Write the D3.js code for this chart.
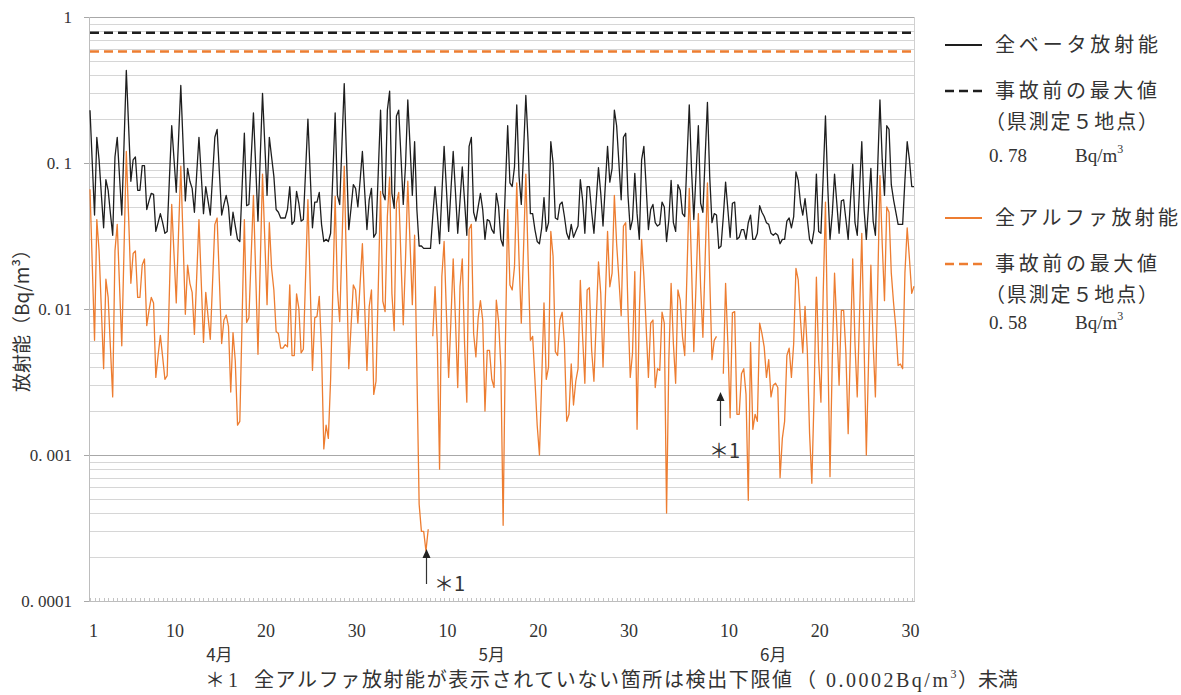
<!DOCTYPE html>
<html><head><meta charset="utf-8">
<script src="https://cdn.jsdelivr.net/npm/d3@7"></script>
<style>body{margin:0;background:#fff;}svg{display:block;}</style>
</head><body><svg id="c" width="1181" height="695"></svg>
<script>
// 全ベータ放射能 (Bq/m3), 4 samples per day, Apr 1 - Jun 30
const beta = [
0.23,0.10,0.044,0.15,0.105,0.061,0.036,0.077,0.065,0.045,0.032,0.11,0.15,0.081,0.044,0.136,0.43,0.18,0.075,0.105,
0.11,0.065,0.065,0.096,0.096,0.048,0.055,0.062,0.061,0.034,0.039,0.045,0.039,0.033,0.034,0.079,0.18,0.107,0.063,0.145,
0.34,0.136,0.055,0.092,0.075,0.067,0.046,0.084,0.15,0.083,0.045,0.069,0.055,0.044,0.081,0.15,0.17,0.086,0.044,0.052,
0.060,0.050,0.032,0.046,0.037,0.030,0.029,0.068,0.16,0.051,0.052,0.108,0.22,0.095,0.040,0.11,0.30,0.135,0.060,0.15,
0.11,0.081,0.048,0.046,0.042,0.042,0.042,0.048,0.069,0.038,0.040,0.064,0.053,0.040,0.041,0.090,0.20,0.084,0.036,0.054,
0.054,0.063,0.038,0.029,0.030,0.029,0.033,0.084,0.22,0.060,0.052,0.135,0.35,0.11,0.035,0.049,0.071,0.067,0.050,0.076,
0.12,0.064,0.035,0.056,0.067,0.031,0.033,0.087,0.23,0.062,0.056,0.23,0.31,0.062,0.049,0.21,0.23,0.11,0.052,0.097,
0.27,0.13,0.060,0.14,0.048,0.027,0.027,0.026,0.026,0.026,0.026,0.043,0.069,0.045,0.028,0.061,0.13,0.067,0.034,0.065,
0.12,0.063,0.033,0.055,0.094,0.055,0.032,0.13,0.15,0.046,0.040,0.050,0.062,0.048,0.030,0.041,0.040,0.035,0.033,0.062,
0.050,0.030,0.027,0.069,0.18,0.073,0.069,0.094,0.25,0.081,0.052,0.12,0.29,0.14,0.045,0.045,0.035,0.029,0.028,0.036,
0.058,0.034,0.039,0.14,0.10,0.042,0.041,0.052,0.054,0.043,0.033,0.030,0.038,0.031,0.034,0.037,0.077,0.056,0.033,0.069,
0.069,0.046,0.033,0.055,0.093,0.062,0.037,0.070,0.13,0.074,0.092,0.23,0.18,0.10,0.056,0.15,0.16,0.060,0.035,0.041,
0.085,0.045,0.030,0.105,0.13,0.069,0.035,0.048,0.052,0.039,0.037,0.038,0.054,0.050,0.029,0.041,0.076,0.039,0.034,0.071,
0.065,0.045,0.043,0.105,0.25,0.090,0.041,0.085,0.18,0.053,0.046,0.11,0.26,0.081,0.039,0.045,0.044,0.026,0.027,0.043,
0.074,0.048,0.031,0.053,0.054,0.030,0.031,0.035,0.035,0.030,0.039,0.044,0.030,0.030,0.033,0.051,0.046,0.043,0.039,0.038,
0.033,0.032,0.033,0.032,0.028,0.030,0.030,0.040,0.042,0.036,0.043,0.087,0.076,0.053,0.044,0.057,0.041,0.030,0.028,0.035,
0.084,0.034,0.033,0.081,0.21,0.069,0.030,0.045,0.084,0.053,0.033,0.055,0.056,0.041,0.030,0.055,0.098,0.039,0.032,0.066,
0.14,0.048,0.030,0.052,0.092,0.040,0.032,0.093,0.27,0.105,0.060,0.18,0.17,0.071,0.056,0.046,0.038,0.038,0.038,0.076,
0.14,0.105,0.069,0.069
];
// 全アルファ放射能 (Bq/m3); null = below detection limit
const alpha = [
0.066,0.020,0.0061,0.041,0.025,0.010,0.0039,0.016,0.012,0.0054,0.0025,0.025,0.038,0.0146,0.0056,0.026,0.12,0.043,0.015,0.024,
0.025,0.012,0.012,0.020,0.022,0.0077,0.0098,0.012,0.011,0.0034,0.0048,0.0066,0.0047,0.0033,0.0035,0.0135,0.052,0.024,0.011,0.033,
0.095,0.030,0.0092,0.020,0.015,0.013,0.0067,0.0166,0.041,0.0155,0.0059,0.013,0.0089,0.0062,0.0153,0.038,0.042,0.0157,0.0058,0.0084,
0.0091,0.0076,0.0027,0.0069,0.0044,0.0016,0.0017,0.0084,0.041,0.0081,0.0087,0.023,0.060,0.0173,0.0049,0.0204,0.084,0.030,0.0107,0.039,
0.019,0.0135,0.0070,0.0068,0.0054,0.0054,0.0057,0.0055,0.0146,0.0048,0.0048,0.0127,0.0101,0.0050,0.0053,0.0172,0.056,0.0146,0.0038,0.0087,
0.0089,0.0122,0.0052,0.0011,0.0016,0.0013,0.0033,0.014,0.059,0.0135,0.0082,0.028,0.095,0.019,0.0039,0.0076,0.0146,0.0135,0.0080,0.015,
0.028,0.0104,0.0038,0.0104,0.0135,0.0026,0.0032,0.0142,0.064,0.0113,0.0096,0.043,0.080,0.0128,0.0071,0.053,0.063,0.022,0.0078,0.022,
0.075,0.028,0.0107,0.032,0.0038,0.00046,0.00030,0.00030,0.00022,0.00031,null,0.0065,0.0142,0.0058,0.0008,0.0167,0.029,0.0094,0.0034,0.0084,
0.022,0.0084,0.0029,0.0142,0.022,0.0058,0.0023,0.035,0.038,0.0068,0.0047,0.0087,0.0114,0.0084,0.0020,0.0052,0.0052,0.0033,0.0029,0.0115,
0.0082,0.0040,0.00033,0.0058,0.048,0.0146,0.0135,0.0195,0.073,0.022,0.0080,0.026,0.084,0.022,0.0061,0.0065,0.0033,0.0016,0.0010,0.0033,
0.011,0.0033,0.0040,0.034,0.023,0.0051,0.0048,0.0084,0.0095,0.0058,0.0017,0.0019,0.0042,0.0022,0.0032,0.0039,0.0157,0.0065,0.0031,0.0135,
0.014,0.0052,0.0032,0.0082,0.021,0.0128,0.0040,0.0115,0.034,0.0142,0.0176,0.060,0.028,0.016,0.009,0.037,0.039,0.0099,0.0034,0.0050,
0.018,0.0015,0.0094,0.030,0.0167,0.0076,0.0034,0.0080,0.0084,0.0029,0.0039,0.0038,0.0095,0.0080,0.00040,0.0045,0.015,0.0058,0.0031,0.0135,
0.0115,0.0065,0.0048,0.018,0.067,0.0195,0.0051,0.015,0.045,0.0142,0.0064,0.022,0.073,0.0167,0.0045,0.0061,0.0065,null,null,0.0036,
0.015,0.0058,0.0018,0.0094,0.0096,0.0019,0.0019,0.0036,0.0039,0.0026,0.00049,0.0059,0.0015,0.0019,0.0017,0.0080,0.0068,0.0055,0.0034,0.0045,
0.0025,0.0030,0.0031,0.0029,0.00070,0.0013,0.0017,0.0048,0.0054,0.0034,0.0058,0.019,0.0158,0.0084,0.0050,0.0104,0.0052,0.0014,0.00064,0.0026,
0.0165,0.0045,0.0023,0.0128,0.054,0.0058,0.00071,0.0045,0.0176,0.0076,0.0030,0.0098,0.0098,0.0050,0.0014,0.0055,0.022,0.0058,0.0025,0.009,
0.033,0.0058,0.0010,0.0045,0.020,0.0058,0.0025,0.0142,0.082,0.028,0.0114,0.050,0.046,0.0176,0.011,0.0074,0.0041,0.0042,0.0039,0.0176,
0.036,0.022,0.0128,0.0143
];
const months = ["4月", "5月", "6月"];
const monthDays = [30, 31, 30];
const dayLabels = [1, 10, 20, 30];
const samplesPerDay = 4;
const yTicks = [1, 0.1, 0.01, 0.001, 0.0001];
const refBeta = 0.78;   // 事故前の最大値 (全ベータ)
const refAlpha = 0.58;  // 事故前の最大値 (全アルファ)
const footnoteArrows = [148, 277.5]; // sample positions of *1 marks

const svg = d3.select("#c");
const L = 90, R = 914, T = 17, B = 601;
const n = beta.length;
const x = d3.scaleLinear().domain([0, n - 1]).range([L, R]);
const y = d3.scaleLog().domain([1e-4, 1]).range([B, T]);
const numFont = "'Liberation Serif','DejaVu Serif',serif";
const jpFont = "'Noto Sans CJK JP','Noto Sans',sans-serif";
const BLACK = "#1e1e1e", ORANGE = "#ED7D31";

// grid
const minor = [];
[1e-4, 1e-3, 1e-2, 1e-1].forEach(d => { for (let k = 2; k <= 9; k++) minor.push(d * k); });
svg.append("g").selectAll("line").data(minor).join("line")
  .attr("x1", L).attr("x2", R).attr("y1", d => Math.round(y(d)) + 0.5).attr("y2", d => Math.round(y(d)) + 0.5)
  .attr("stroke", "#d6d6d6").attr("stroke-width", 1);
svg.append("g").selectAll("line").data(yTicks).join("line")
  .attr("x1", L - 6).attr("x2", R).attr("y1", d => Math.round(y(d)) + 0.5).attr("y2", d => Math.round(y(d)) + 0.5)
  .attr("stroke", "#a8a8a8").attr("stroke-width", 1);
// frame
svg.append("line").attr("x1", L - 0.5).attr("x2", L - 0.5).attr("y1", T).attr("y2", B + 1).attr("stroke", "#bdbdbd");
svg.append("line").attr("x1", R + 0.5).attr("x2", R + 0.5).attr("y1", T).attr("y2", B + 1).attr("stroke", "#d0d0d0");
svg.append("line").attr("x1", L - 1).attr("x2", R + 1).attr("y1", B + 0.5).attr("y2", B + 0.5).attr("stroke", "#bdbdbd");
// minor x ticks
svg.append("g").selectAll("line").data(d3.range(0, n, 2)).join("line")
  .attr("x1", d => Math.round(x(d)) + 0.5).attr("x2", d => Math.round(x(d)) + 0.5)
  .attr("y1", B - 3).attr("y2", B).attr("stroke", "#c4c4c4");

// y tick labels
const yl = svg.append("g").attr("font-family", numFont).attr("font-size", 17).attr("fill", "#333");
yTicks.forEach(v => {
  const t = yl.append("text").attr("x", 72).attr("y", y(v) + 6).attr("text-anchor", "end");
  const s = String(v);
  if (s.includes(".")) {
    const [a, b] = s.split(".");
    t.append("tspan").text(a + ".");
    t.append("tspan").attr("dx", 4).text(b);
  } else t.text(s);
});
// y title
svg.append("text").attr("transform", "translate(29,316) rotate(-90)").attr("text-anchor", "middle")
  .attr("font-family", jpFont).attr("font-size", 19).attr("fill", "#333")
  .text("放射能（Bq/m³）");

// x labels (day "1" only for the first month)
let offset = 0;
const xl = svg.append("g").attr("fill", "#333");
months.forEach((m, mi) => {
  dayLabels.filter(d => d <= monthDays[mi] && (d !== 1 || mi === 0)).forEach(d => {
    xl.append("text").attr("x", x(offset + (d - 1) * samplesPerDay + 1.5)).attr("y", 637)
      .attr("text-anchor", "middle").attr("font-family", numFont).attr("font-size", 18).text(d);
  });
  xl.append("text").attr("x", x(offset + 14 * samplesPerDay + 1)).attr("y", 661)
    .attr("text-anchor", "middle").attr("font-family", jpFont).attr("font-size", 17).text(m);
  offset += monthDays[mi] * samplesPerDay;
});

// reference lines
svg.append("line").attr("x1", L).attr("x2", R).attr("y1", y(refBeta)).attr("y2", y(refBeta))
  .attr("stroke", BLACK).attr("stroke-width", 2.5).attr("stroke-dasharray", "9,5");
svg.append("line").attr("x1", L).attr("x2", R).attr("y1", y(refAlpha)).attr("y2", y(refAlpha))
  .attr("stroke", ORANGE).attr("stroke-width", 2.5).attr("stroke-dasharray", "9,5");

// series
const line = d3.line().defined(d => d != null).x((d, i) => x(i)).y(d => y(d));
svg.append("path").datum(alpha).attr("d", line).attr("fill", "none").attr("stroke", ORANGE)
  .attr("stroke-width", 1.3).attr("stroke-linejoin", "round");
svg.append("path").datum(beta).attr("d", line).attr("fill", "none").attr("stroke", BLACK)
  .attr("stroke-width", 1.3).attr("stroke-linejoin", "round");

// *1 annotations
const ann = [{i: footnoteArrows[0], y1: 584, y2: 549, tx: 434, ty: 591},
             {i: footnoteArrows[1], y1: 426, y2: 392, tx: 709, ty: 458}];
ann.forEach(a => {
  const ax = Math.round(x(a.i)) + 0.5;
  svg.append("line").attr("x1", ax).attr("x2", ax).attr("y1", a.y1).attr("y2", a.y2 + 7).attr("stroke", "#333").attr("stroke-width", 1.2);
  svg.append("path").attr("d", `M${ax},${a.y2} L${ax - 4},${a.y2 + 9} L${ax + 4},${a.y2 + 9} Z`).attr("fill", "#222");
  svg.append("text").attr("x", a.tx).attr("y", a.ty).attr("font-family", jpFont).attr("font-size", 20).attr("fill", "#333").text("＊1");
});

// legend
const lg = svg.append("g").attr("fill", "#333").attr("font-family", jpFont).attr("font-size", 20);
const leg = [
  {y: 45, color: BLACK, dash: null, lines: [{t: "全ベータ放射能", x: 995, dy: 0, w: 163}]},
  {y: 91, color: BLACK, dash: "9,5", lines: [{t: "事故前の最大値", x: 995, dy: 0, w: 162}, {t: "（県測定５地点）", x: 985, dy: 31, w: 173}]},
  {y: 218, color: ORANGE, dash: null, lines: [{t: "全アルファ放射能", x: 995, dy: 0, w: 183}]},
  {y: 264, color: ORANGE, dash: "9,5", lines: [{t: "事故前の最大値", x: 995, dy: 0, w: 162}, {t: "（県測定５地点）", x: 985, dy: 31, w: 173}]}
];
leg.forEach(it => {
  lg.append("line").attr("x1", 945).attr("x2", 982).attr("y1", it.y).attr("y2", it.y)
    .attr("stroke", it.color).attr("stroke-width", it.dash ? 2.5 : 2).attr("stroke-dasharray", it.dash);
  it.lines.forEach(l => {
    lg.append("text").attr("x", l.x).attr("y", it.y + l.dy + 7).attr("textLength", l.w).attr("lengthAdjust", "spacing").text(l.t);
  });
});
[[refBeta, 162], [refAlpha, 329]].forEach(([v, yy]) => {
  const t = lg.append("text").attr("y", yy).attr("font-family", numFont).attr("font-size", 19);
  t.append("tspan").attr("x", 989).text(String(v).replace(".", ". "));
  t.append("tspan").attr("x", 1075).text("Bq/m");
  t.append("tspan").attr("dy", -9).attr("font-size", 12).text("3");
});

// footnote
const fn = svg.append("text").attr("y", 687).attr("font-family", jpFont).attr("font-size", 20).attr("fill", "#333");
fn.append("tspan").attr("x", 205).text("＊");
fn.append("tspan").attr("x", 228).attr("font-family", numFont).text("1 ");
fn.append("tspan").attr("x", 254).attr("textLength", 538).attr("lengthAdjust", "spacing").text("全アルファ放射能が表示されていない箇所は検出下限値");
fn.append("tspan").attr("x", 796).text("（");
fn.append("tspan").attr("x", 826).attr("font-family", numFont).attr("textLength", 122).attr("lengthAdjust", "spacing").text("0.0002Bq/m");
fn.append("tspan").attr("dy", -9).attr("font-family", numFont).attr("font-size", 12).text("3");
fn.append("tspan").attr("x", 958).attr("dy", 9).text("）未満");
</script></body></html>
